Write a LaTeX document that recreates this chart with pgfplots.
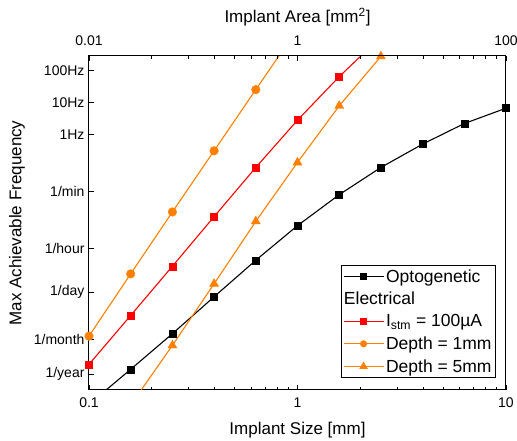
\documentclass[border=0pt]{standalone}
\usepackage{fontspec}
\setmainfont{Liberation Sans}
\usepackage{pgfplots}
\pgfplotsset{compat=1.18}
\definecolor{ored}{RGB}{255,0,0}
\definecolor{oorange}{RGB}{255,128,0}
\pgfplotsset{legend image code/.code={\draw[mark repeat=2,mark phase=2,#1] plot coordinates {(0pt,0pt)(20pt,0pt)(40pt,0pt)};}}
\begin{document}
\begin{tikzpicture}
\begin{axis}[name=ax,
  scale only axis, width=417pt, height=334pt,
  xmode=log, ymode=log,
  xmin=0.1, xmax=10, ymin=1e-8, ymax=288,
  clip mode=individual,
  tick label style={font=\fontsize{14}{16}\selectfont},
  label style={font=\fontsize{17}{20}\selectfont},
  major tick length=5pt, minor tick length=3pt,
  tick style={black, line width=0.8pt},
  axis line style={line width=1pt},
  tick align=inside,
  xtick pos=lower, ytick pos=left,
  xtick={0.1,1,10}, xticklabels={0.1,1,10},
  ytick={3.171e-8,3.858e-7,1.1574e-5,2.7778e-4,1.6667e-2,1,10,100},
  yticklabels={1/year,1/month,1/day,1/hour,1/min,1Hz,10Hz,100Hz},
  yminorticks=false,
  xticklabel shift=4pt,
  yticklabel shift=1pt,
  xlabel={Implant Size [mm]},
  ylabel={Max Achievable Frequency},
  xlabel style={at={([yshift=-40pt]axis description cs:0.5,0)}, anchor=center},
  ylabel style={at={([xshift=-72pt]axis description cs:0,0.5)}, anchor=center},
  legend style={at={(0.976,0.036)}, anchor=south east, draw=black, line width=0.8pt,
    font=\fontsize{17.5}{20}\selectfont, inner xsep=2pt, inner ysep=2pt, row sep=4.5pt},
  legend cell align=left,
]
\addlegendimage{black, line width=1pt, mark=square*, mark size=3pt}
\addlegendimage{legend image code/.code={\path[draw=none] (0pt,0pt) -- (40pt,0pt); \node[overlay, anchor=west, inner sep=0pt] at (0pt,0pt) {Electrical};}}
\addlegendimage{ored, line width=1pt, mark=square*, mark size=3pt}
\addlegendimage{oorange, line width=1pt, mark=*, mark size=3pt}
\addlegendimage{oorange, line width=1pt, mark=triangle*, mark size=4pt}
\legend{Optogenetic, \phantom{E}, I\textsubscript{stm} = 100µA, Depth = 1mm, Depth = 5mm}

% Optogenetic: line (including the point below the axis) and marks
\addplot[black, line width=1.1pt, no marks, forget plot] coordinates {
(0.1,3.55e-9) (0.1585,4.44e-8) (0.2512,5.79e-7) (0.3981,8.30e-6) (0.6310,1.155e-4)
(1,1.403e-3) (1.585,0.01306) (2.512,0.0931) (3.981,0.501) (6.310,2.208) (10,6.68)};
\addplot[black, only marks, mark=square*, mark size=3.5pt, forget plot] coordinates {
(0.1585,4.44e-8) (0.2512,5.79e-7) (0.3981,8.30e-6) (0.6310,1.155e-4)
(1,1.403e-3) (1.585,0.01306) (2.512,0.0931) (3.981,0.501) (6.310,2.208) (10,6.68)};
% Electrical Istm=100uA
\addplot[ored, line width=1.1pt, no marks, forget plot] coordinates {
(0.1,6.35e-8) (0.1585,2.158e-6) (0.2512,7.50e-5) (0.3981,2.68e-3) (0.6310,0.0931)
(1,2.818) (1.585,64.9) (2.512,1148)};
\addplot[ored, only marks, mark=square*, mark size=3.5pt, forget plot] coordinates {
(0.1,6.35e-8) (0.1585,2.158e-6) (0.2512,7.50e-5) (0.3981,2.68e-3) (0.6310,0.0931)
(1,2.818) (1.585,64.9)};
% Depth 1mm
\addplot[oorange, line width=1.1pt, no marks, forget plot] coordinates {
(0.1,4.87e-7) (0.1585,4.34e-5) (0.2512,3.76e-3) (0.3981,0.310) (0.6310,25.5) (1,2042)};
\addplot[oorange, only marks, mark=*, mark size=4.3pt, forget plot] coordinates {
(0.1,4.87e-7) (0.1585,4.34e-5) (0.2512,3.76e-3) (0.3981,0.310) (0.6310,25.5)};
% Depth 5mm
\addplot[oorange, line width=1.1pt, no marks, forget plot] coordinates {
(0.1585,3.39e-9) (0.2512,2.49e-7) (0.3981,2.11e-5) (0.6310,1.91e-3) (1,0.1334)
(1.585,7.89) (2.512,280)};
\addplot[oorange, only marks, mark=triangle*, mark size=5.2pt, forget plot, clip=false] coordinates {
(0.2512,2.49e-7) (0.3981,2.11e-5) (0.6310,1.91e-3) (1,0.1334)
(1.585,7.89) (2.512,280)};
\end{axis}
\begin{axis}[
  scale only axis, width=417pt, height=334pt,
  xmode=log, ymode=log,
  xmin=0.1, xmax=10, ymin=1e-8, ymax=288,
  tick label style={font=\fontsize{14}{16}\selectfont},
  label style={font=\fontsize{17}{20}\selectfont},
  major tick length=5pt, minor tick length=3pt,
  tick style={black, line width=0.8pt},
  axis line style={line width=1pt},
  tick align=inside,
  axis x line*=top, hide y axis,
  xtick={0.1,1,10}, xticklabels={0.01,1,100},
  xticklabel shift=7pt,
  xlabel={Implant Area [mm\textsuperscript{2}]},
  xlabel style={at={([yshift=39pt]axis description cs:0.5,1)}, anchor=center},
]
\end{axis}
\pgfresetboundingbox
\path[use as bounding box] ([xshift=-89pt,yshift=-51pt]ax.south west) rectangle ([xshift=11pt,yshift=56pt]ax.north east);
\end{tikzpicture}
\end{document}
